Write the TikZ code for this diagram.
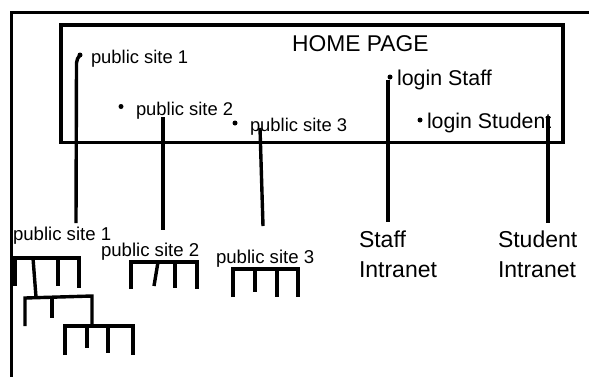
\documentclass[tikz,border=0pt]{standalone}
\usepackage{fontspec}
\setmainfont{Liberation Sans}[Ligatures=NoCommon]
\tikzset{
  lbl/.style={anchor=base west, inner sep=0pt, outer sep=0pt, font=\fontsize{18.4}{22}\selectfont},
  big/.style={anchor=north west, inner sep=0pt, outer sep=0pt, font=\fontsize{23}{30}\selectfont, align=left},
  bulletdot/.style={circle, fill=black, inner sep=0pt, minimum size=5pt},
  wire/.style={line width=3.4pt},
  framebox/.style={line width=3.6pt},
  treeline/.style={line width=3.4pt, line join=miter}
}
\begin{document}
\begin{tikzpicture}[x=1pt,y=-1pt]
\useasboundingbox (0,0) rectangle (589,376);
\clip (0,0) rectangle (589,376);
% outer frame
\draw[framebox] (11.5,385) -- (11.5,12.5) -- (600,12.5);
% home page box
\draw[framebox] (61,25) rectangle (563,142.5) node[pos=0,inner sep=0pt] (home) {};
\node[anchor=base west, inner sep=0pt, font=\fontsize{22.8}{26}\selectfont] (title) at (292,51) {HOME PAGE};
% bullets and labels inside
\node[bulletdot] (d1) at (80,55) {};
\node[lbl] (t1) at (91,63.5) {public site 1};
\node[bulletdot] (d2) at (121,106.5) {};
\node[lbl] (t2) at (136,115) {public site 2};
\node[bulletdot] (d3) at (235,123) {};
\node[lbl] (t3) at (250,131) {public site 3};
\node[bulletdot] (d4) at (390,77) {};
\node[lbl, font=\fontsize{21.4}{24}\selectfont] (t4) at (397,85) {login Staff};
\node[bulletdot] (d5) at (420,120) {};
\node[lbl, font=\fontsize{21.3}{24}\selectfont] (t5) at (427,128) {login Student};
% lower labels
\node[lbl, font=\fontsize{18.6}{22}\selectfont] (p1) at (13,240) {public site 1};
\node[lbl, font=\fontsize{18.6}{22}\selectfont] (p2) at (101,256) {public site 2};
\node[lbl, font=\fontsize{18.6}{22}\selectfont] (p3) at (216,263) {public site 3};
\node[big] (staff) at (359,230.5) {Staff\\Intranet};
\node[big] (student) at (498,230.5) {Student\\Intranet};
% connector end points
\coordinate (a1) at (76.5,63);
\coordinate (b1) at (76,223);
\coordinate (a2) at (163,117);
\coordinate (b2) at (163,230);
\coordinate (a3) at (260,128);
\coordinate (b3) at (263,226);
\coordinate (a4) at (388,80);
\coordinate (b4) at (388,222);
\coordinate (a5) at (548,116);
\coordinate (b5) at (548,223);
\draw[wire] (d1.center) to[out=235,in=90] (a1) -- (b1);
\draw[wire] (a2) -- (b2);
\draw[wire] (a3) -- (b3);
\draw[wire] (a4) -- (b4);
\draw[wire] (a5) -- (b5);
% tree under public site 1
\draw[treeline] (15,286) -- (15,258) -- (79,258) -- (79,288);
\draw[treeline] (58,258) -- (58,286);
\draw[treeline] (33,258) -- (36,297);
\draw[treeline] (25,326) -- (25,298) -- (92,296) -- (92,326);
\draw[treeline] (52,297) -- (52,318);
\draw[treeline] (65,355) -- (65,326) -- (133,326) -- (133,355);
\draw[treeline] (87,326) -- (87,348);
\draw[treeline] (108,326) -- (108,353);
% tree under public site 2
\draw[treeline] (131,289) -- (131,262) -- (197,262) -- (197,289);
\draw[treeline] (158,262) -- (154,286);
\draw[treeline] (175,262) -- (175,288);
% tree under public site 3
\draw[treeline] (233,297) -- (233,269) -- (298,269) -- (298,297);
\draw[treeline] (255,269) -- (255,292);
\draw[treeline] (277,269) -- (277,297);
\end{tikzpicture}
\end{document}
